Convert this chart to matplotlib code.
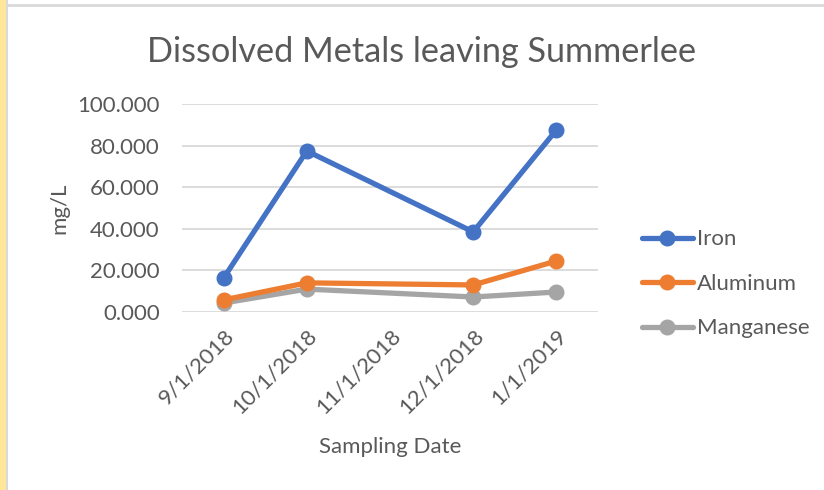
import matplotlib.pyplot as plt
from matplotlib.patches import Rectangle
from matplotlib.lines import Line2D

dates = ["9/1/2018", "10/1/2018", "11/1/2018", "12/1/2018", "1/1/2019"]
# 11/1/2018 has no sample, lines join 10/1 straight to 12/1
sample_pos = [0, 1, 3, 4]
iron = [16.3, 77.4, 38.5, 87.5]
aluminum = [5.8, 14.0, 13.0, 24.5]
manganese = [4.3, 11.0, 7.2, 9.6]

plt.rcParams['font.family'] = ['Lato', 'DejaVu Sans']
txt = '#595959'

fig = plt.figure(figsize=(8.24, 4.9), dpi=100)
ax = fig.add_axes([0.2209, 0.3633, 0.5048, 0.4245])

# frame bits around the chart
fig.patches.append(Rectangle((0, 0), 6 / 824, 1, transform=fig.transFigure,
                             color='#FFE699', zorder=0))
fig.add_artist(Line2D([6.5 / 824, 6.5 / 824], [0, 1], color='#D9D9D9', lw=1.5))
fig.add_artist(Line2D([7 / 824, 1], [1 - 5 / 490, 1 - 5 / 490], color='#D9D9D9', lw=2))

series = [("Iron", iron, '#4472C4'),
          ("Aluminum", aluminum, '#ED7D31'),
          ("Manganese", manganese, '#A5A5A5')]
for name, vals, col in series[::-1]:
  ax.plot(sample_pos, vals, color=col, lw=3.8, marker='o', ms=10.5,
          solid_capstyle='round', label=name)

ax.set_xlim(-0.5, 4.5)
ax.set_ylim(0, 100)
ax.set_yticks(range(0, 101, 20))
ax.set_yticklabels(["%.3f" % v for v in range(0, 101, 20)])
ax.set_xticks(range(len(dates)))
ax.set_xticklabels(dates, rotation=45, ha='right', rotation_mode='anchor')
ax.tick_params(length=0, labelsize=16, labelcolor=txt)
ax.tick_params(axis='y', pad=16)
ax.tick_params(axis='x', pad=10)
ax.grid(axis='y', color='#D9D9D9', lw=1.3)
ax.set_axisbelow(True)
for s in ax.spines.values():
  s.set_visible(False)

# title is centred on the whole chart box, not on the plot area
ax.set_title("Dissolved Metals leaving Summerlee", fontsize=24.7, color=txt,
             pad=30, x=0.577)
ax.set_xlabel("Sampling Date", fontsize=16, color=txt, labelpad=14)
ax.set_ylabel("mg/L", fontsize=16, color=txt, labelpad=6)

h, l = ax.get_legend_handles_labels()
ax.legend(h[::-1], l[::-1], loc='center left', bbox_to_anchor=(1.105, 0.135),
          frameon=False, fontsize=16, labelcolor=txt, handlelength=2.3,
          handletextpad=0.2, labelspacing=1.1, borderaxespad=0, borderpad=0)

plt.savefig("out.png", dpi=100)
